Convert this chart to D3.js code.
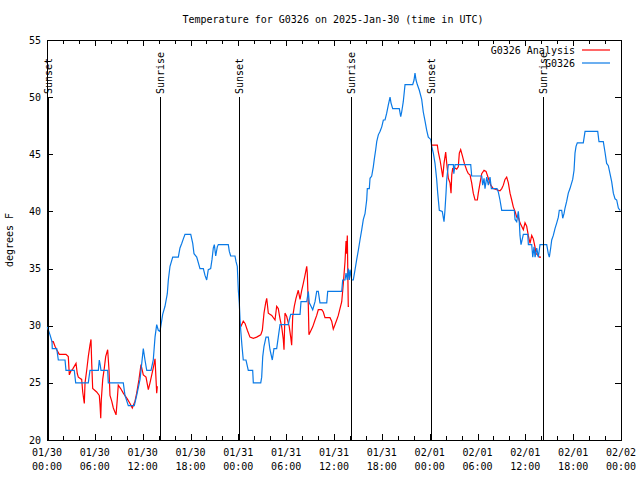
<!DOCTYPE html>
<html><head><meta charset="utf-8">
<script src="https://cdn.jsdelivr.net/npm/d3@7"></script>
<style>
body{margin:0;background:#fff;}
svg text{font-family:"DejaVu Sans Mono","Liberation Mono",monospace;font-size:10px;fill:#000;}
</style></head>
<body><svg id="c" width="640" height="480"></svg>
<script>
// hours since 2025-01-30 00:00 UTC
const obsHours = [0.04,0.38,0.63,0.66,1.22,1.42,2.26,2.38,3.42,3.60,5.18,5.39,6.44,6.56,6.69,6.77,7.61,7.69,9.57,9.78,10.20,10.95,11.25,11.67,12.08,12.29,12.51,13.05,13.33,13.55,13.76,13.96,14.17,14.51,14.80,15.09,15.22,15.43,15.77,16.47,16.68,16.90,17.10,17.31,18.03,18.28,18.44,18.78,19.19,19.61,19.82,20.03,20.23,20.53,20.70,20.86,20.99,21.16,21.36,21.49,22.74,22.87,23.04,23.58,23.71,23.87,24.00,24.12,24.21,24.30,24.46,24.62,24.96,25.25,25.80,25.88,26.81,26.93,27.06,27.22,27.47,27.76,27.97,28.26,28.47,28.81,29.01,29.23,30.27,30.39,30.57,31.74,31.86,32.58,32.78,32.90,33.12,33.33,33.62,33.83,34.03,34.24,35.09,35.21,36.97,37.09,37.38,37.51,37.67,37.79,37.92,38.01,38.22,38.42,38.64,38.85,39.05,39.26,39.48,39.68,39.89,40.10,40.18,40.43,40.52,40.73,40.93,41.06,41.23,41.36,41.56,41.77,41.99,42.19,42.40,42.61,42.81,43.03,43.15,43.36,44.19,44.37,44.49,44.69,44.91,45.87,46.04,46.16,46.29,46.45,46.70,47.00,47.20,47.42,47.63,47.83,48.13,48.26,48.46,48.67,48.88,49.01,49.21,49.58,49.80,49.92,50.05,50.14,50.34,50.97,51.03,51.18,53.15,53.27,54.53,54.65,54.82,54.94,55.16,55.36,55.57,55.74,56.45,56.61,56.82,57.04,58.62,58.71,58.92,59.12,59.25,59.33,59.46,59.75,60.30,60.38,60.80,60.93,61.09,61.22,61.43,61.63,61.84,62.68,62.88,63.01,63.18,63.31,63.51,63.72,63.94,64.14,64.26,64.56,64.69,64.85,64.98,65.19,65.39,65.60,65.94,66.11,66.23,66.36,66.52,67.27,67.49,69.08,69.24,69.78,69.99,70.20,70.41,70.62,70.83,71.04,71.25,71.46,71.67,71.88];
const obsTemps = [29.9,29.2,28.6,28.0,28.0,27.0,27.0,26.1,26.1,25.0,25.0,26.1,26.1,27.0,26.5,26.1,26.1,25.0,25.0,23.9,23.0,23.0,23.9,25.3,28.0,27.0,26.1,26.1,27.0,29.0,30.1,29.6,29.5,31.0,31.7,32.8,34.0,35.2,36.0,36.0,36.8,37.2,37.6,38.0,38.0,37.2,36.3,36.0,35.0,35.0,34.4,34.0,34.9,35.0,35.8,36.8,37.1,36.1,36.9,37.1,37.1,36.5,36.1,36.1,35.6,35.2,33.1,32.0,30.6,29.6,28.2,27.0,27.0,26.1,26.1,25.0,25.0,25.5,27.3,28.2,29.0,29.0,27.9,27.0,28.0,28.0,29.0,30.1,30.1,30.5,31.0,31.0,32.1,32.1,33.0,32.0,31.7,31.4,32.1,33.0,33.0,32.0,32.0,33.0,33.0,34.0,34.0,34.6,34.0,35.0,34.0,34.9,34.0,34.0,34.9,35.8,36.6,37.5,38.4,39.3,39.8,41.0,42.0,42.0,42.9,43.1,43.9,44.6,45.4,46.1,46.7,47.0,47.4,48.0,48.0,48.6,49.3,50.0,49.5,49.0,49.0,48.3,48.7,49.6,51.1,51.1,51.5,52.1,51.5,51.1,50.6,49.8,48.7,47.9,47.1,46.5,46.3,45.7,45.1,44.2,42.8,41.6,40.1,40.0,39.1,40.1,41.6,42.8,44.1,44.1,43.3,44.1,44.1,43.1,43.1,42.3,42.9,42.0,43.0,42.3,43.0,42.0,42.0,41.7,41.0,40.1,40.1,39.3,39.1,40.0,39.0,37.9,37.1,38.0,38.0,37.1,37.1,36.0,36.9,36.0,36.8,36.0,37.1,37.1,36.3,36.0,36.8,37.5,37.9,38.5,39.0,39.5,40.1,40.1,39.4,39.8,40.3,40.9,41.6,42.0,42.8,43.6,45.1,45.7,46.0,46.0,47.0,47.0,46.1,46.1,45.2,44.2,44.0,43.3,42.6,41.6,41.1,41.0,40.3,40.1];
// analysis: null marks a gap
const anaHours = [0.59,0.79,1.00,1.22,1.54,2.38,2.67,2.80,2.97,3.22,3.64,3.80,3.93,4.35,4.48,4.68,4.77,4.98,5.18,5.39,5.52,5.61,5.73,6.23,6.56,6.65,6.74,6.81,6.99,7.19,7.36,7.61,7.78,7.90,8.12,8.32,8.66,8.82,8.94,9.24,9.57,10.07,10.41,10.70,11.04,11.25,11.54,11.79,12.08,12.42,12.71,12.92,13.33,13.55,13.76,13.84,null,
24.30,24.62,24.84,25.13,25.46,25.88,26.30,26.81,27.01,27.22,27.43,27.56,27.76,28.19,28.60,28.81,29.01,29.23,29.44,29.64,29.73,29.85,30.07,30.39,30.57,30.69,30.82,31.02,31.23,31.52,31.74,31.95,32.15,32.36,32.58,32.65,32.78,32.86,32.99,33.33,33.62,33.83,34.03,34.46,34.66,34.87,35.50,35.71,35.91,36.13,36.34,36.54,36.75,36.97,37.17,37.38,37.51,37.59,37.67,37.79,37.88,null,
48.29,48.96,49.08,49.30,49.51,49.64,49.80,50.01,50.14,50.34,50.55,50.68,50.77,50.89,50.97,51.18,51.39,51.59,51.72,51.89,52.09,52.35,52.65,52.85,53.06,53.27,53.47,53.69,53.98,54.10,54.32,54.53,54.82,55.07,55.36,55.66,55.98,56.41,56.82,57.04,57.24,57.45,57.66,57.87,58.08,58.29,58.49,58.71,58.92,59.12,59.33,59.54,59.75,59.96,60.17,60.37,60.59,60.80,61.00,61.21,61.34,61.55,61.75,61.97];
const anaTemps = [28.6,28.6,28.2,27.9,27.5,27.5,27.3,25.7,26.0,26.2,26.7,25.8,25.5,25.3,24.2,23.2,25.0,26.1,27.3,28.3,28.8,26.7,24.5,24.2,23.9,23.1,21.9,23.5,25.3,26.3,27.3,27.9,26.1,23.9,23.4,22.8,22.2,23.6,24.8,24.5,24.1,23.6,23.2,22.8,23.4,24.1,25.3,26.6,25.7,25.5,24.4,25.0,26.3,27.1,24.1,24.7,null,
29.9,30.4,30.2,29.6,29.0,28.9,29.0,29.2,29.6,31.1,32.0,32.4,31.1,30.9,30.5,31.7,31.5,30.6,29.9,28.8,27.9,31.1,30.8,29.9,29.0,28.3,30.8,31.7,32.4,33.1,32.3,33.1,33.7,34.4,35.2,34.6,31.7,29.2,29.4,29.9,30.5,30.9,31.4,31.4,31.2,30.7,30.7,30.4,29.7,30.1,30.5,30.9,31.5,32.1,33.7,35.6,37.4,36.3,37.9,31.7,31.7,null,
45.8,45.8,45.2,44.5,43.6,43.0,44.2,45.2,44.2,42.9,42.5,41.6,43.2,43.8,43.6,43.8,43.7,43.9,45.1,45.4,44.9,44.2,43.6,43.3,43.2,42.5,41.6,41.0,41.0,41.6,42.5,43.3,43.6,43.5,42.9,42.3,42.0,41.9,41.8,42.0,42.3,42.8,43.0,42.5,41.6,41.0,40.4,40.0,39.5,39.5,39.0,38.7,38.4,39.0,38.7,37.9,37.2,37.9,37.6,36.9,36.3,36.2,36.0,36.0];
const sunLabels = ["Sunset","Sunrise","Sunset","Sunrise","Sunset","Sunrise"];
const sunHours = [0.13,14.17,24.08,38.13,48.17,62.22];
const yTicks = [20,25,30,35,40,45,50,55];
const titleText = "Temperature for G0326 on 2025-Jan-30 (time in UTC)";
const seriesNames = ["G0326 Analysis","G0326"];

const t0 = Date.UTC(2025,0,30);
const toDate = h => new Date(t0 + h*3600e3);
const L=47,R=621,T=40,B=440;
const x = d3.scaleUtc().domain([toDate(0),toDate(72)]).range([L,R]);
const y = d3.scaleLinear().domain([20,55]).range([B,T]);
const svg = d3.select("#c");

// frame
svg.append("rect").attr("x",L+0.5).attr("y",T+0.5).attr("width",R-L).attr("height",B-T)
  .attr("fill","none").attr("stroke","#000").attr("stroke-width",1).attr("shape-rendering","crispEdges");

// ticks
const major = x.ticks(d3.utcHour.every(6));
const minor = x.ticks(d3.utcHour.every(2));
const tg = svg.append("g").attr("stroke","#000").attr("shape-rendering","crispEdges");
minor.forEach(d=>{
  const xx = Math.round(x(d))+0.5;
  const len = major.some(m=>+m===+d)?6:4;
  tg.append("line").attr("x1",xx).attr("x2",xx).attr("y1",B).attr("y2",B-len);
  tg.append("line").attr("x1",xx).attr("x2",xx).attr("y1",T).attr("y2",T+len);
});
yTicks.forEach(v=>{
  const yy = Math.round(y(v))+0.5;
  tg.append("line").attr("x1",L).attr("x2",L+6).attr("y1",yy).attr("y2",yy);
  tg.append("line").attr("x1",R).attr("x2",R-6).attr("y1",yy).attr("y2",yy);
});
const fmtD = d3.utcFormat("%m/%d"), fmtH = d3.utcFormat("%H:%M");
major.forEach(d=>{
  const t = svg.append("text").attr("text-anchor","middle");
  t.append("tspan").attr("x",x(d)).attr("y",456).text(fmtD(d));
  t.append("tspan").attr("x",x(d)).attr("y",470).text(fmtH(d));
});
yTicks.forEach(v=>{
  svg.append("text").attr("x",41).attr("y",y(v)).attr("dy","0.35em").attr("text-anchor","end").text(v);
});

// titles
svg.append("text").attr("x",333).attr("y",23).attr("text-anchor","middle").text(titleText);
svg.append("text").attr("transform","translate(13,240) rotate(-90)").attr("text-anchor","middle").text("degrees F");

// series
const line = d3.line().defined(d=>d[0]!==null && d[1]!==null).x(d=>x(toDate(d[0]))).y(d=>y(d[1]));
const ana = anaHours.map((h,i)=>[h,anaTemps[i]]);
const obs = obsHours.map((h,i)=>[h,obsTemps[i]]);
svg.append("path").datum(ana).attr("d",line).attr("fill","none").attr("stroke","#ff0000").attr("stroke-width",1.2);
svg.append("path").datum(obs).attr("d",line).attr("fill","none").attr("stroke","#0a7ae6").attr("stroke-width",1.2);

// sun lines
sunHours.forEach((h,i)=>{
  const xx = Math.round(x(toDate(h)))+0.5;
  svg.append("line").attr("x1",xx).attr("x2",xx).attr("y1",97).attr("y2",B)
    .attr("stroke","#000").attr("stroke-width",1).attr("shape-rendering","crispEdges");
  svg.append("text").attr("transform",`translate(${xx},94) rotate(-90)`).attr("dy","0.35em")
    .attr("text-anchor","start").text(sunLabels[i]);
});

// legend
const colors = ["#ff0000","#0a7ae6"];
seriesNames.forEach((n,i)=>{
  const yy = 50 + i*13;
  svg.append("text").attr("x",575).attr("y",yy).attr("dy","0.35em").attr("text-anchor","end").text(n);
  svg.append("line").attr("x1",582).attr("x2",610).attr("y1",yy).attr("y2",yy)
    .attr("stroke",colors[i]).attr("stroke-width",1.2);
});
</script></body></html>
